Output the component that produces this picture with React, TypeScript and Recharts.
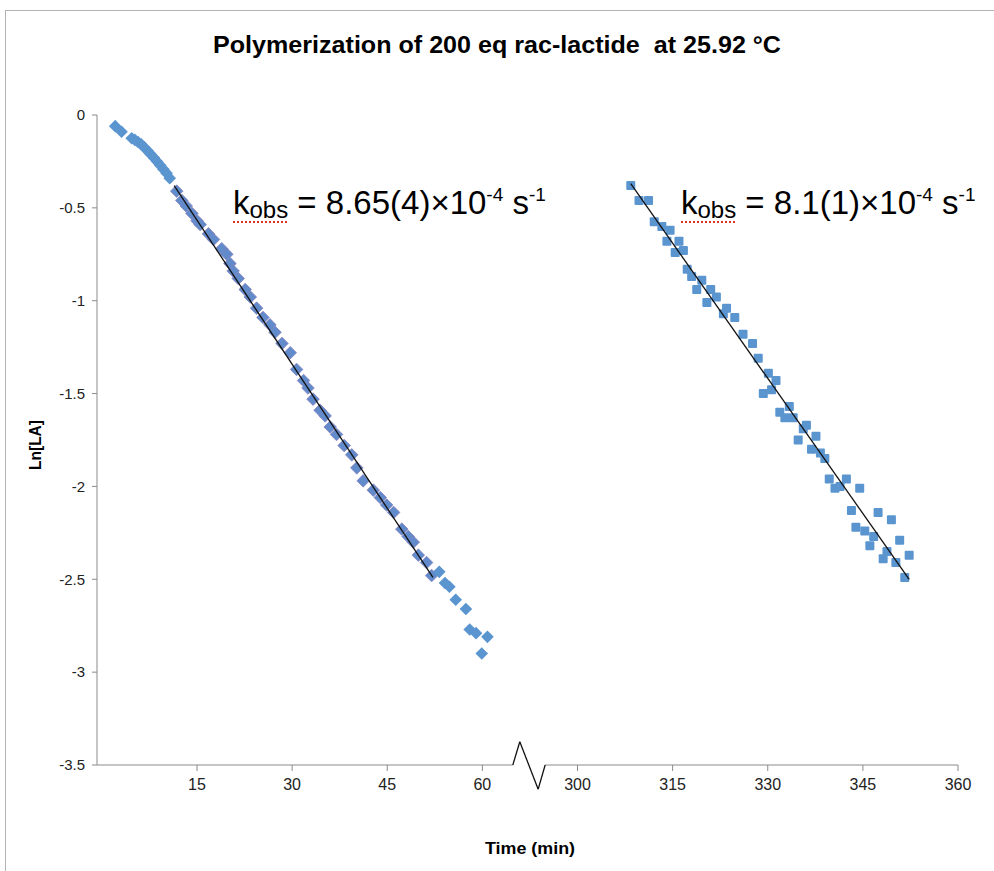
import React from "react";
import { ScatterChart, Scatter, XAxis, YAxis, ReferenceLine } from "recharts";

// left block: 0-60 min, right block: 300-360 min (drawn shifted left by BREAK_SHIFT)
const BREAK_SHIFT = 225;

const leftTime = [
  2.1, 3.1, 4.7, 5.2, 5.7, 6.2, 6.7, 7.2, 7.7, 8.2, 8.7, 9.2, 9.7, 10.2, 10.7,
  11.8, 12.6, 13.3, 14.2, 15.0, 15.5, 16.8, 17.6, 18.9, 19.7, 20.2, 20.7, 21.5,
  22.6, 23.4, 24.4, 25.4, 26.5, 27.3, 28.4, 29.7, 30.7, 31.8, 32.5, 33.3, 34.4,
  35.2, 36.0, 37.0, 38.2, 39.4, 40.2, 41.2, 42.8, 43.9, 44.9, 46.0, 47.3, 48.3,
  49.1, 49.9, 51.2, 52.0, 53.2, 54.1, 54.8, 55.8, 57.4, 58.0, 59.0, 59.9, 60.8,
];
const leftLn = [
  -0.06, -0.09, -0.125, -0.134, -0.145, -0.158, -0.175, -0.193, -0.211, -0.23,
  -0.25, -0.271, -0.292, -0.313, -0.34, -0.41, -0.46, -0.49, -0.53, -0.57, -0.59,
  -0.64, -0.67, -0.72, -0.75, -0.8, -0.84, -0.88, -0.94, -0.98, -1.04, -1.09,
  -1.13, -1.17, -1.23, -1.28, -1.37, -1.43, -1.47, -1.53, -1.59, -1.62, -1.68,
  -1.72, -1.78, -1.83, -1.9, -1.97, -2.02, -2.06, -2.1, -2.14, -2.23, -2.27,
  -2.3, -2.37, -2.41, -2.48, -2.46, -2.52, -2.54, -2.61, -2.66, -2.77, -2.79,
  -2.9, -2.81,
];

const rightTime = [
  308.4, 309.7, 311.2, 312.1, 313.3, 314.1, 314.6, 315.4, 316.0, 316.7, 317.3,
  318.0, 318.8, 319.6, 320.4, 321.0, 321.9, 323.0, 323.5, 324.8, 326.1, 327.6,
  328.5, 329.3, 330.1, 330.6, 331.3, 331.9, 332.7, 333.4, 334.0, 334.8, 335.6,
  336.1, 336.9, 337.6, 338.3, 339.0, 339.7, 340.6, 341.4, 342.4, 343.2, 343.9,
  344.5, 345.3, 346.1, 346.7, 347.4, 348.2, 348.8, 349.5, 350.2, 350.8, 351.6,
  352.3,
];
const rightLn = [
  -0.38, -0.46, -0.46, -0.575, -0.6, -0.68, -0.62, -0.74, -0.68, -0.73, -0.83,
  -0.87, -0.94, -0.89, -1.01, -0.94, -0.98, -1.07, -1.04, -1.09, -1.18, -1.23,
  -1.31, -1.5, -1.39, -1.48, -1.43, -1.6, -1.63, -1.57, -1.63, -1.75, -1.69,
  -1.67, -1.8, -1.73, -1.82, -1.85, -1.96, -2.01, -2.0, -1.96, -2.13, -2.22,
  -2.01, -2.24, -2.32, -2.27, -2.14, -2.39, -2.35, -2.18, -2.41, -2.29, -2.49,
  -2.37,
];

// linear fits (end points)
const leftFitTime = [11.4, 52.2];
const leftFitLn = [-0.38, -2.49];
const rightFitTime = [308.4, 352.3];
const rightFitLn = [-0.37, -2.5];

const xTicks = [15, 30, 45, 60, 75, 90, 105, 120, 135];
const yTicks = [0, -0.5, -1, -1.5, -2, -2.5, -3, -3.5];

const toAxis = (t: number) => (t > 200 ? t - BREAK_SHIFT : t);
const pairs = (ts: number[], vs: number[]) =>
  ts.map((t, i) => ({ x: toAxis(t), y: vs[i], t }));

const leftData = pairs(leftTime, leftLn);
const rightData = pairs(rightTime, rightLn);
const leftFit = pairs(leftFitTime, leftFitLn);
const rightFit = pairs(rightFitTime, rightFitLn);

// x axis line with the break (zigzag)
const axisLeft = [{ x: -0.77, y: -3.5 }, { x: 64.8, y: -3.5 }];
const axisRight = [{ x: 69.9, y: -3.5 }, { x: 135, y: -3.5 }];
const breakMark = [
  { x: 64.8, y: -3.5 },
  { x: 65.9, y: -3.375 },
  { x: 68.8, y: -3.63 },
  { x: 69.9, y: -3.5 },
];

const BLUE = "#5B95D0";
const FONT = "'Liberation Sans', Arial, sans-serif";
const NARROW = "'Liberation Sans Narrow', 'Liberation Sans', Arial, sans-serif";

const Diamond = (props: any) => {
  const { cx, cy, payload } = props;
  if (cx == null || cy == null) return <g />;
  const inFit = payload.t >= leftFitTime[0] && payload.t <= leftFitTime[1];
  const r = 6.3;
  return (
    <polygon
      points={`${cx},${cy - r} ${cx + r},${cy} ${cx},${cy + r} ${cx - r},${cy}`}
      fill={inFit ? "#628BCB" : BLUE}
      stroke={inFit ? "#8682BE" : "none"}
      strokeWidth={0.8}
    />
  );
};

const Square = (props: any) => {
  const { cx, cy } = props;
  if (cx == null || cy == null) return <g />;
  return <rect x={cx - 4.5} y={cy - 4.5} width={9} height={9} rx={1} fill={BLUE} />;
};

const NoDot = () => <g />;

function Kobs({ x, y, value }: { x: number; y: number; value: string }) {
  return (
    <g>
      <text x={x} y={y} fontFamily={FONT} fontSize={33} fill="#000">
        k<tspan fontSize={24} dy={4}>obs</tspan>
        <tspan dy={-4}> = {value}×10</tspan>
        <tspan fontSize={19} dy={-13}>-4</tspan>
        <tspan fontSize={33} dy={13}> s</tspan>
        <tspan fontSize={19} dy={-13}>-1</tspan>
      </text>
      <line x1={x} x2={x + 54} y1={y + 8} y2={y + 8} stroke="#e0301e" strokeWidth={2} strokeDasharray="2 2" />
    </g>
  );
}

export default function App() {
  return (
    <div style={{ position: "fixed", left: 0, top: 0, width: 994, height: 871, background: "#fff" }}>
      <div
        style={{
          position: "absolute",
          left: 5,
          top: 10,
          width: 989,
          height: 861,
          borderTop: "1.5px solid #b3b3b3",
          borderLeft: "1.5px solid #b3b3b3",
        }}
      />
      <div style={{ position: "absolute", left: 0, top: 0 }}>
        <ScatterChart width={994} height={871} margin={{ top: 115, right: 36, bottom: 66, left: 37 }}>
          <XAxis
            type="number"
            dataKey="x"
            domain={[-0.77, 135]}
            ticks={xTicks}
            tickFormatter={(v: number) => String(v > 60 ? v + BREAK_SHIFT : v)}
            axisLine={false}
            tickLine={{ stroke: "#8a8a8a" }}
            tickSize={6}
            tickMargin={8}
            height={40}
            tick={{ fontSize: 16, fill: "#222", fontFamily: NARROW }}
          />
          <YAxis
            type="number"
            dataKey="y"
            domain={[-3.5, 0]}
            ticks={yTicks}
            axisLine={{ stroke: "#8a8a8a" }}
            tickLine={{ stroke: "#8a8a8a" }}
            tickSize={5}
            tickMargin={7}
            width={60}
            tick={{ fontSize: 15, fill: "#222", fontFamily: FONT }}
          />
          <ReferenceLine segment={axisLeft} stroke="#8a8a8a" strokeWidth={1} ifOverflow="visible" />
          <ReferenceLine segment={axisRight} stroke="#8a8a8a" strokeWidth={1} ifOverflow="visible" />
          {breakMark.slice(1).map((p, i) => (
            <ReferenceLine
              key={i}
              segment={[breakMark[i], p]}
              stroke="#111"
              strokeWidth={1.3}
              ifOverflow="visible"
            />
          ))}
          <Scatter data={leftData} shape={Diamond} isAnimationActive={false} />
          <Scatter data={rightData} shape={Square} isAnimationActive={false} />
          <Scatter data={leftFit} line={{ stroke: "#111", strokeWidth: 1.3 }} shape={NoDot} isAnimationActive={false} />
          <Scatter data={rightFit} line={{ stroke: "#111", strokeWidth: 1.3 }} shape={NoDot} isAnimationActive={false} />
        </ScatterChart>
      </div>
      <svg width={994} height={871} style={{ position: "absolute", left: 0, top: 0, pointerEvents: "none" }}>
        <text
          x={497}
          y={53}
          textAnchor="middle"
          fontFamily={NARROW}
          fontWeight="bold"
          fontSize={23}
          textLength={568}
          lengthAdjust="spacingAndGlyphs"
          fill="#000"
          style={{ whiteSpace: "pre" }}
        >
          Polymerization of 200 eq rac-lactide  at 25.92 °C
        </text>
        <text
          x={41}
          y={445}
          transform="rotate(-90, 41, 445)"
          textAnchor="middle"
          fontFamily={NARROW}
          fontWeight="bold"
          fontSize={16}
          textLength={50}
          lengthAdjust="spacingAndGlyphs"
          fill="#000"
        >
          Ln[LA]
        </text>
        <text
          x={530}
          y={854}
          textAnchor="middle"
          fontFamily={NARROW}
          fontWeight="bold"
          fontSize={16}
          textLength={90}
          lengthAdjust="spacingAndGlyphs"
          fill="#000"
        >
          Time (min)
        </text>
        <Kobs x={233} y={214} value="8.65(4)" />
        <Kobs x={681} y={214} value="8.1(1)" />
      </svg>
    </div>
  );
}
